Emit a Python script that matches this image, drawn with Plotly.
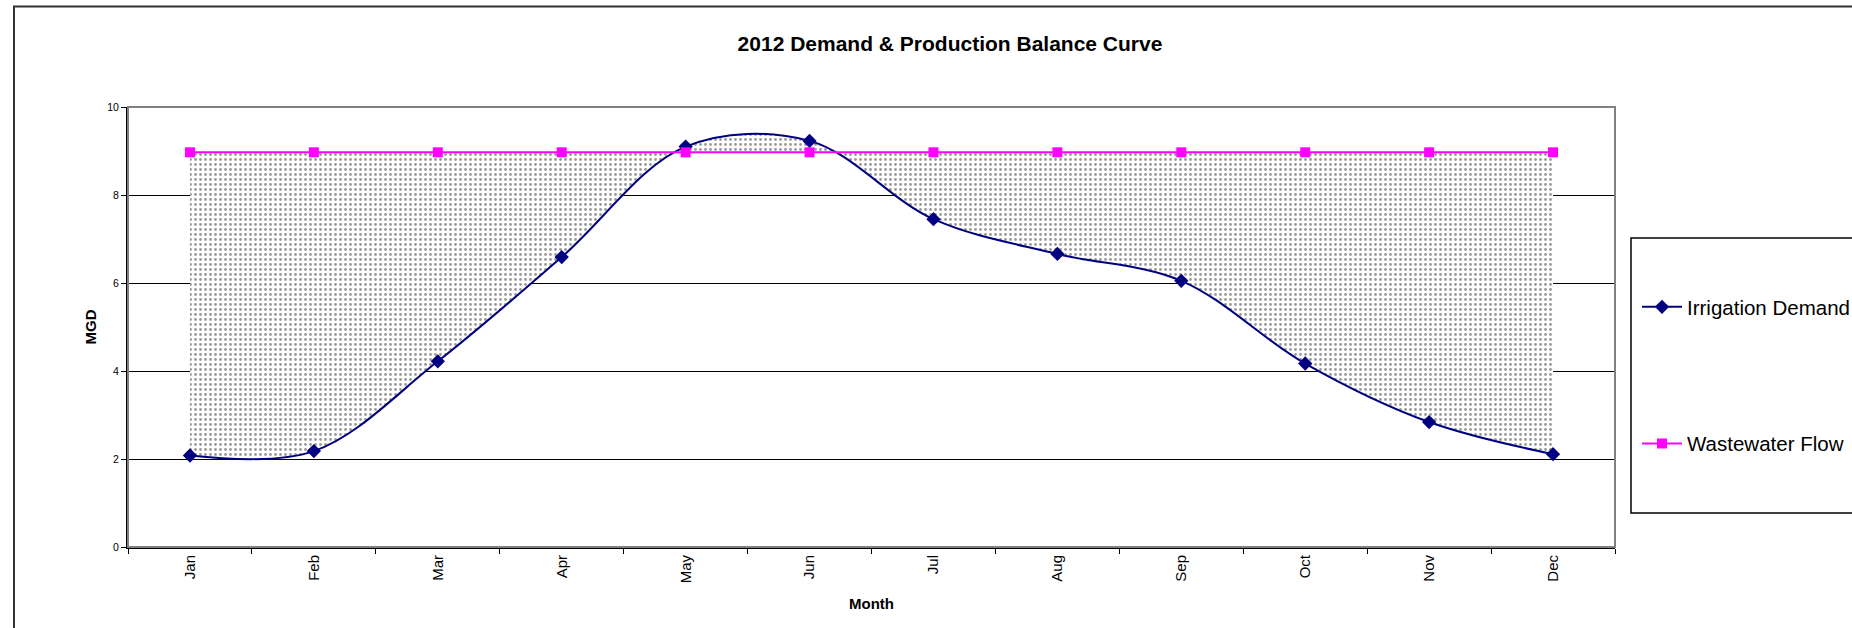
import plotly.graph_objects as go

# Monthly values (MGD)
months = ["Jan", "Feb", "Mar", "Apr", "May", "Jun",
          "Jul", "Aug", "Sep", "Oct", "Nov", "Dec"]
irrigation_demand = [2.08, 2.18, 4.22, 6.59, 9.10, 9.23,
                     7.45, 6.66, 6.05, 4.17, 2.84, 2.11]
wastewater_flow = [8.97, 8.97, 8.97, 8.97, 8.97, 8.97,
                   8.97, 8.97, 8.97, 8.97, 8.97, 8.97]
y_ticks = [0, 2, 4, 6, 8, 10]

FONT = "Liberation Sans, Arial, sans-serif"
NAVY = "#000080"
MAGENTA = "#FF00FF"

# plot-area geometry in pixels
W, H = 1852, 628
L, R, T, B = 128, 1615, 107, 547
pw, ph = R - L, B - T


def px_x(x):
    return (x - L) / pw


def px_y(y):
    return (B - y) / ph


fig = go.Figure()

# base for the balance area
fig.add_trace(go.Scatter(
    x=months, y=wastewater_flow, mode="lines",
    line=dict(width=0, color="rgba(0,0,0,0)"),
    showlegend=False, hoverinfo="skip"))

# dotted area between production and demand
fig.add_trace(go.Scatter(
    x=months, y=irrigation_demand, mode="lines",
    line=dict(width=0, shape="spline", color="rgba(0,0,0,0)"),
    fill="tonexty", fillcolor="white",
    fillpattern=dict(shape=".", fgcolor="#333333", bgcolor="white",
                     size=5, solidity=0.25),
    showlegend=False, hoverinfo="skip"))

fig.add_trace(go.Scatter(
    x=months, y=irrigation_demand, mode="lines+markers",
    name="Irrigation Demand", legendgroup="demand",
    line=dict(color=NAVY, width=2, shape="spline"),
    marker=dict(symbol="diamond", size=11, color=NAVY)))

fig.add_trace(go.Scatter(
    x=months, y=wastewater_flow, mode="lines+markers",
    name="Wastewater Flow", legendgroup="flow",
    line=dict(color=MAGENTA, width=2),
    marker=dict(symbol="square", size=10, color=MAGENTA)))

shapes = [
    # plot-area frame
    dict(type="rect", xref="paper", yref="paper", x0=0, x1=1, y0=0, y1=1,
         line=dict(color="#808080", width=2), layer="above"),
    # outer chart frame (runs past the right and bottom edges)
    dict(type="path", xref="paper", yref="paper",
         path=f"M {px_x(14)} {px_y(700)} L {px_x(14)} {px_y(6.5)} L {px_x(2100)} {px_y(6.5)}",
         line=dict(color="#333333", width=2)),
    # legend frame (runs past the right edge)
    dict(type="path", xref="paper", yref="paper",
         path=(f"M {px_x(2100)} {px_y(238)} L {px_x(1631)} {px_y(238)} "
               f"L {px_x(1631)} {px_y(513)} L {px_x(2100)} {px_y(513)}"),
         line=dict(color="#000000", width=1.5)),
]

fig.update_layout(
    width=W, height=H,
    margin=dict(l=L, r=W - R, t=T, b=H - B, autoexpand=False),
    paper_bgcolor="white", plot_bgcolor="white",
    font=dict(family=FONT, color="black"),
    title=dict(text="<b>2012 Demand & Production Balance Curve</b>",
               x=950 / W, xref="container", xanchor="center",
               y=1 - 44 / H, yref="container", yanchor="middle",
               font=dict(size=21, family=FONT, color="black")),
    xaxis=dict(
        type="category", range=[-0.5, 11.5],
        tickson="boundaries", ticks="outside", ticklen=5,
        tickcolor="black", tickwidth=1, tickangle=-90,
        tickfont=dict(size=15, family=FONT, color="black"),
        showline=True, linecolor="black", linewidth=2,
        showgrid=False, zeroline=False,
        title=dict(text="<b>Month</b>", standoff=16,
                   font=dict(size=15, family=FONT, color="black"))),
    yaxis=dict(
        range=[0, 10], tickvals=y_ticks, ticks="outside", ticklen=5,
        tickcolor="black", tickwidth=1,
        tickfont=dict(size=10.5, family=FONT, color="black"),
        showline=True, linecolor="black", linewidth=2,
        showgrid=True, gridcolor="black", gridwidth=1, zeroline=False,
        title=dict(text="<b>MGD</b>", standoff=7,
                   font=dict(size=15, family=FONT, color="black"))),
    legend=dict(
        x=px_x(1637), xanchor="left", y=px_y(287), yanchor="top",
        bgcolor="rgba(0,0,0,0)", borderwidth=0,
        traceorder="grouped", tracegroupgap=107, itemwidth=40,
        font=dict(size=20.5, family=FONT, color="black")),
    shapes=shapes,
    showlegend=True,
)

fig.write_html("out.html")
